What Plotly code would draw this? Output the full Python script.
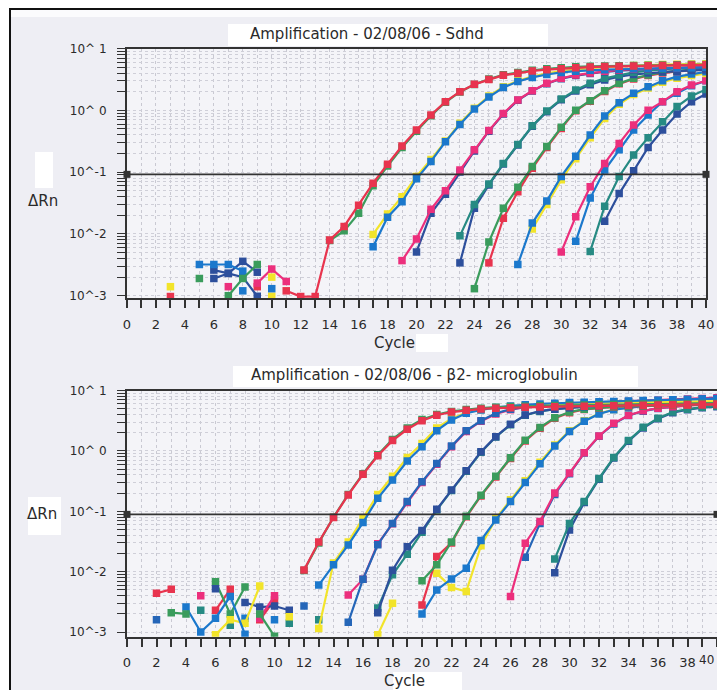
import plotly.graph_objects as go

N = None
CYCLES = list(range(1, 41))

# ---------------- Sdhd (top chart) : delta Rn per cycle 1..40 ----------------
SDHD_GREEN_A = [N, N, N, N, 0.0019, N, 0.0010, 0.0019, 0.0032, N,
                N, N, N, 0.0078, 0.0112, 0.0215, 0.060, 0.125, 0.25, 0.46,
                0.82, 1.35, 1.98, 2.62, 3.2, 3.75, 4.1, 4.45, 4.7, 4.9,
                5.05, 5.15, 5.2, 5.25, 5.3, 5.35, 5.4, 5.45, 5.5, 5.5]
SDHD_RED_A = [N, N, 0.00097, N, N, N, N, N, N, N,
              0.0012, 0.00097, 0.00097, 0.0080, 0.0132, 0.029, 0.066, 0.134, 0.264, 0.48,
              0.84, 1.38, 2.0, 2.63, 3.16, 3.7, 3.96, 4.33, 4.55, 4.72,
              4.9, 5.0, 5.1, 5.15, 5.2, 5.25, 5.3, 5.35, 5.4, 5.45]
SDHD_YELLOW_B = [N, N, 0.0014, N, N, N, N, N, N, 0.0020,
                 N, N, N, N, N, N, 0.0098, 0.021, 0.040, 0.085,
                 0.16, 0.32, 0.62, 1.08, 1.7, 2.4, 3.0, 3.5, 3.95, 4.3,
                 4.6, 4.8, 5.0, 5.15, 5.3, 5.4, 5.5, 5.55, 5.6, 5.65]
SDHD_BLUE_B = [N, N, N, N, 0.0032, 0.0032, 0.0032, 0.0025, N, 0.0013,
               N, N, N, N, N, N, 0.0062, 0.0186, 0.033, 0.078,
               0.149, 0.31, 0.59, 1.05, 1.64, 2.33, 2.92, 3.41, 3.8, 4.1,
               4.3, 4.45, 4.55, 4.62, 4.7, 4.75, 4.8, 4.85, 4.9, 4.95]
SDHD_PINK_C = [N, N, N, N, N, N, 0.0014, N, 0.0016, 0.0027,
               0.0017, N, N, N, N, N, N, N, 0.0037, 0.0083,
               0.025, 0.050, 0.108, 0.23, 0.47, 0.89, 1.47, 2.08, 2.73, 3.29,
               3.72, 4.0, 4.3, 4.5, 4.65, 4.75, 4.85, 4.9, 5.0, 5.05]
SDHD_NAVY_C = [N, N, N, N, N, 0.0026, 0.0023, 0.0036, 0.0024, N,
               N, N, N, N, N, N, N, N, N, 0.0051,
               0.0215, 0.044, 0.10, 0.22, 0.46, 0.87, 1.45, 2.05, 2.7, 3.25,
               3.65, 3.95, 4.2, 4.4, 4.55, 4.65, 4.75, 4.8, 4.85, 4.9]
SDHD_TEAL_D = [N, N, N, N, N, N, N, N, N, N,
               N, N, N, N, N, N, N, N, N, N,
               N, N, 0.0093, 0.030, 0.064, 0.138, 0.28, 0.56, 0.97, 1.52,
               2.13, 2.73, 3.29, 3.72, 4.11, 4.37, 4.6, 4.79, 4.9, 5.08]
SDHD_NAVY_D = [N, N, N, N, N, 0.0019, 0.0023, 0.0020, 0.00098, N,
               N, N, N, N, N, N, N, N, N, N,
               N, N, 0.0034, 0.026, 0.062, 0.135, 0.275, 0.55, 0.95, 1.48,
               2.05, 2.6, 3.1, 3.5, 3.8, 4.0, 4.15, 4.3, 4.4, 4.5]
SDHD_GREEN_E = [N, N, N, N, N, N, N, N, N, N,
                N, N, N, N, N, N, N, N, N, N,
                N, N, N, 0.0013, 0.0074, 0.026, 0.057, 0.123, 0.26, 0.53,
                1.0, 1.43, 2.07, 2.73, 3.29, 3.72, 4.11, 4.37, 4.6, 4.79]
SDHD_RED_E = [N, N, N, N, N, N, N, N, 0.0014, N,
              N, N, N, N, N, N, N, N, N, N,
              N, N, N, N, 0.0034, 0.018, 0.048, 0.115, 0.25, 0.51,
              0.98, 1.4, 2.02, 2.68, 3.2, 3.65, 4.0, 4.25, 4.45, 4.6]
SDHD_YELLOW_F = [N, N, N, N, N, N, N, N, N, 0.00098,
                 N, N, N, N, N, N, N, N, N, N,
                 N, N, N, N, N, N, N, 0.012, 0.030, 0.075,
                 0.165, 0.36, 0.74, 1.25, 1.8, 2.3, 2.85, 3.3, 3.65, 3.95]
SDHD_BLUE_F = [N, N, N, N, N, N, N, 0.0012, N, N,
               N, N, N, N, N, N, N, N, N, N,
               N, N, N, N, N, N, 0.0032, 0.015, 0.034, 0.085,
               0.18, 0.40, 0.81, 1.33, 1.88, 2.4, 3.0, 3.5, 3.87, 4.2]
SDHD_PINK_G = [N, N, N, N, N, N, N, N, N, N,
               N, N, N, N, N, N, N, N, N, N,
               N, N, N, N, N, N, N, N, N, 0.0051,
               0.019, 0.058, 0.138, 0.29, 0.58, 1.0, 1.38, 2.0, 2.57, 3.0]
SDHD_BLUE_G = [N, N, N, N, N, N, N, N, N, N,
               N, N, N, N, N, N, N, N, N, N,
               N, N, N, N, N, N, N, N, N, N,
               0.0076, 0.038, 0.108, 0.23, 0.48, 0.84, 1.38, 1.88, 2.5, 3.0]
SDHD_TEAL_H = [N, N, N, N, N, N, N, N, N, N,
               N, N, N, N, N, N, N, N, N, N,
               N, N, N, N, N, N, N, N, N, N,
               N, 0.0052, 0.028, 0.085, 0.19, 0.36, 0.65, 1.15, 1.7, 2.18]
SDHD_NAVY_H = [N, N, N, N, N, N, N, N, N, N,
               N, N, N, N, N, N, N, N, N, N,
               N, N, N, N, N, N, N, N, N, N,
               N, N, 0.016, 0.045, 0.105, 0.25, 0.48, 0.87, 1.38, 1.84]
SDHD_THRESHOLD = 0.092

# ---------------- beta2-microglobulin (bottom chart) ----------------
B2M_GREEN_A = [N, N, 0.0021, 0.0020, N, N, N, N, 0.0020, 0.00085,
               N, 0.0105, 0.030, 0.080, 0.19, 0.42, 0.86, 1.55, 2.4, 3.3,
               4.0, 4.5, 4.85, 5.1, 5.3, 5.4, 5.5, 5.6, 5.65, 5.7,
               5.75, 5.8, 5.85, 5.9, 5.95, 6.0, 6.0, 6.05, 6.1, 6.1]
B2M_RED_A = [N, 0.0044, 0.0051, N, N, N, N, N, N, N,
             N, 0.0107, 0.031, 0.079, 0.187, 0.41, 0.83, 1.48, 2.28, 3.16,
             3.9, 4.4, 4.7, 4.95, 5.1, 5.2, 5.3, 5.35, 5.4, 5.45,
             5.5, 5.55, 5.6, 5.65, 5.7, 5.75, 5.8, 5.85, 5.9, 5.95]
B2M_YELLOW_B = [N, N, N, N, N, 0.00090, 0.0016, 0.0014, 0.0058, N,
                0.0018, N, 0.00115, 0.014, 0.031, 0.075, 0.19, 0.38, 0.78, 1.32,
                2.4, 3.4, 4.3, 4.8, 5.2, 5.5, 5.7, 5.85, 5.95, 6.05,
                6.15, 6.2, 6.3, 6.35, 6.4, 6.45, 6.5, 6.55, 6.6, 6.65]
B2M_BLUE_B = [N, N, N, 0.0026, 0.0010, 0.0017, 0.0039, 0.00092, N, N,
              N, N, 0.0060, 0.013, 0.0277, 0.065, 0.164, 0.33, 0.68, 1.17,
              2.16, 3.24, 4.2, 4.75, 5.25, 5.55, 5.8, 6.0, 6.15, 6.3,
              6.4, 6.5, 6.6, 6.7, 6.8, 6.9, 7.0, 7.1, 7.2, 7.3]
B2M_PINK_C = [N, N, N, N, 0.0040, N, N, N, 0.0017, 0.0040,
              N, N, N, N, 0.0041, 0.0075, 0.029, 0.062, 0.14, 0.30,
              0.60, 1.17, 2.1, 3.1, 4.1, 4.8, 5.3, 5.6, 5.85, 6.05,
              6.2, 6.35, 6.5, 6.6, 6.75, 6.9, 7.05, 7.2, 7.4, 7.6]
B2M_BLUE_C = [N, 0.0016, N, N, N, N, N, N, N, N,
              N, 0.0027, N, N, 0.00145, 0.0075, 0.028, 0.063, 0.145, 0.31,
              0.62, 1.2, 2.16, 3.16, 4.2, 4.9, 5.3, 5.6, 5.85, 6.0,
              6.15, 6.3, 6.45, 6.55, 6.7, 6.85, 7.0, 7.1, 7.25, 7.4]
B2M_TEAL_D = [N, N, N, N, 0.0023, N, 0.0013, N, N, N,
              0.0014, N, 0.0016, N, N, N, 0.0025, 0.0089, 0.0195, 0.045,
              0.105, 0.22, 0.46, 0.95, 1.7, 2.7, 3.9, 4.5, 4.9, 5.2,
              5.4, 5.55, 5.7, 5.8, 5.9, 6.0, 6.1, 6.2, 6.3, 6.4]
B2M_NAVY_D = [N, N, N, N, N, 0.0052, N, 0.0031, 0.0026, 0.0027,
              0.0023, N, N, N, N, N, 0.0021, 0.0106, 0.026, 0.048,
              0.108, 0.225, 0.47, 0.97, 1.72, 2.75, 3.93, 4.57, 4.9, 5.2,
              5.4, 5.55, 5.7, 5.8, 5.9, 6.0, 6.1, 6.2, 6.3, 6.4]
B2M_GREEN_E = [N, N, N, N, N, 0.0068, 0.0020, 0.0056, N, N,
               N, N, N, N, N, N, N, N, N, 0.0071,
               0.013, 0.031, 0.083, 0.185, 0.38, 0.77, 1.5, 2.45, 3.55, 4.4,
               4.9, 5.2, 5.4, 5.5, 5.6, 5.7, 5.8, 5.85, 5.9, 5.95]
B2M_RED_E = [N, N, N, N, N, 0.0023, 0.0051, N, 0.0016, 0.0034,
             N, N, N, N, N, N, N, N, N, 0.0028,
             0.0178, 0.030, 0.081, 0.18, 0.37, 0.75, 1.46, 2.37, 3.47, 4.3,
             4.85, 5.15, 5.35, 5.45, 5.55, 5.6, 5.65, 5.7, 5.75, 5.8]
B2M_YELLOW_F = [N, N, N, N, N, N, N, N, N, N,
                N, N, N, N, N, N, 0.00090, 0.0030, N, N,
                0.0094, 0.0055, 0.0047, 0.027, 0.075, 0.155, 0.32, 0.65, 1.25, 2.15,
                3.15, 4.15, 4.85, 5.25, 5.55, 5.75, 5.9, 6.0, 6.1, 6.2]
B2M_BLUE_F = [N, N, N, N, N, N, N, 0.0017, N, 0.0016,
              N, N, N, N, N, N, N, N, N, 0.0020,
              0.0050, 0.0076, 0.0114, 0.033, 0.072, 0.145, 0.30, 0.61, 1.2, 2.1,
              3.1, 4.1, 4.8, 5.2, 5.5, 5.7, 5.9, 6.0, 6.1, 6.2]
B2M_PINK_G = [N, N, N, N, N, N, N, N, N, N,
              N, N, N, N, N, N, N, N, N, N,
              N, N, N, N, N, 0.0039, 0.0296, 0.068, 0.20, 0.43,
              0.93, 1.77, 2.86, 3.9, 4.6, 5.1, 5.4, 5.7, 5.9, 6.1]
B2M_BLUE_G = [N, N, N, N, N, N, N, N, N, N,
              N, N, N, N, N, N, N, N, N, N,
              N, N, N, N, N, N, 0.0174, 0.063, 0.19, 0.42,
              0.92, 1.75, 2.8, 3.85, 4.55, 5.05, 5.4, 5.7, 5.9, 6.1]
B2M_TEAL_H = [N, N, N, N, N, N, N, N, N, N,
              N, N, N, N, N, N, N, N, N, N,
              N, N, N, N, N, N, N, N, 0.0163, 0.063,
              0.145, 0.35, 0.78, 1.48, 2.46, 3.47, 4.4, 4.9, 5.3, 5.5]
B2M_NAVY_H = [N, N, N, N, N, N, N, N, N, N,
              N, N, N, N, N, N, N, N, N, N,
              N, N, N, N, N, N, N, N, 0.0096, 0.049,
              0.14, 0.34, 0.76, 1.45, 2.4, 3.4, 4.3, 4.8, 5.2, 5.4]
B2M_THRESHOLD = 0.089

TITLE_TOP = "Amplification - 02/08/06 - Sdhd"
TITLE_BOTTOM = "Amplification - 02/08/06 - \u03b22- microglobulin"
Y_LABEL = "\u0394Rn"
X_LABEL = "Cycle"
LAST_CYCLE_LABEL = "40"

# ---------------- styling ----------------
RED = "#e8344e"
PINK = "#ec2f7c"
GREEN = "#3a9c5c"
TEAL = "#268a83"
YELLOW = "#f2e42a"
BLUE = "#1b78cc"
MIDBLUE = "#2566b8"
NAVY = "#2d4f9c"
FONT = "DejaVu Sans"
INK = "#2a2a2a"

PAGE_MARGIN = 8          # default body margin of the html page
W, H = 725 - 2 * PAGE_MARGIN, 698 - 2 * PAGE_MARGIN


def px(x):
    return (x - PAGE_MARGIN) / W


def py(y):
    return 1 - (y - PAGE_MARGIN) / H


fig = go.Figure()


def add_series(vals, color, xa, ya):
    fig.add_trace(go.Scatter(
        x=CYCLES, y=vals, mode="lines+markers",
        line=dict(color=color, width=2.2),
        marker=dict(symbol="square", size=7.5, color=color),
        connectgaps=False, xaxis=xa, yaxis=ya,
        showlegend=False, hoverinfo="skip"))


top_series = [
    (SDHD_NAVY_H, NAVY), (SDHD_TEAL_H, TEAL),
    (SDHD_BLUE_G, BLUE), (SDHD_PINK_G, PINK),
    (SDHD_YELLOW_F, YELLOW), (SDHD_BLUE_F, BLUE),
    (SDHD_RED_E, RED), (SDHD_GREEN_E, GREEN),
    (SDHD_NAVY_D, NAVY), (SDHD_TEAL_D, TEAL),
    (SDHD_NAVY_C, NAVY), (SDHD_PINK_C, PINK),
    (SDHD_YELLOW_B, YELLOW), (SDHD_BLUE_B, BLUE),
    (SDHD_GREEN_A, GREEN), (SDHD_RED_A, RED),
]
bottom_series = [
    (B2M_NAVY_H, NAVY), (B2M_TEAL_H, TEAL),
    (B2M_BLUE_G, MIDBLUE), (B2M_PINK_G, PINK),
    (B2M_YELLOW_F, YELLOW), (B2M_BLUE_F, BLUE),
    (B2M_RED_E, RED), (B2M_GREEN_E, GREEN),
    (B2M_TEAL_D, TEAL), (B2M_NAVY_D, NAVY),
    (B2M_PINK_C, PINK), (B2M_BLUE_C, MIDBLUE),
    (B2M_YELLOW_B, YELLOW), (B2M_BLUE_B, BLUE),
    (B2M_GREEN_A, GREEN), (B2M_RED_A, RED),
]
for vals, col in top_series:
    add_series(vals, col, "x", "y")
for vals, col in bottom_series:
    add_series(vals, col, "x2", "y2")

# threshold lines (drawn as data through the axes)
for thr, xa, ya in [(SDHD_THRESHOLD, "x", "y"), (B2M_THRESHOLD, "x2", "y2")]:
    fig.add_trace(go.Scatter(x=[0, 40], y=[thr, thr], mode="lines",
                             line=dict(color="#333333", width=1.6),
                             xaxis=xa, yaxis=ya, showlegend=False, hoverinfo="skip"))
    fig.add_trace(go.Scatter(x=[0, 40], y=[thr, thr], mode="markers",
                             marker=dict(symbol="square", size=7, color="#333333"),
                             cliponaxis=False,
                             xaxis=xa, yaxis=ya, showlegend=False, hoverinfo="skip"))

# axis ticks
Y_TICKVALS = []
Y_TICKTEXT = []
for e in range(-3, 1):
    for m in range(1, 10):
        Y_TICKVALS.append(float(f"{m}e{e}"))
        if m == 1:
            Y_TICKTEXT.append(f"10^{e}" if e < 0 else f"10^ {e}")
        else:
            Y_TICKTEXT.append("")
Y_TICKVALS.append(10.0)
Y_TICKTEXT.append("10^ 1")

X_TICKVALS = list(range(0, 41))
X_TICKTEXT = [str(v) if v % 2 == 0 else "" for v in X_TICKVALS]

xcommon = dict(range=[0, 40], tickmode="array", tickvals=X_TICKVALS, ticktext=X_TICKTEXT,
               ticks="outside", ticklen=8, tickwidth=1.5, tickcolor="#333333",
               ticklabelstandoff=5, automargin=False,
               showline=True, linecolor="#333333", linewidth=2, mirror=True,
               showgrid=True, gridcolor="#c9c9d2", gridwidth=1, griddash="dot",
               zeroline=False, tickfont=dict(family=FONT, size=13, color=INK))
ycommon = dict(type="log", tickmode="array", tickvals=Y_TICKVALS, ticktext=Y_TICKTEXT,
               ticks="outside", ticklen=8, tickwidth=1.2, tickcolor="#333333",
               ticklabelstandoff=8, automargin=False,
               showline=True, linecolor="#333333", linewidth=2, mirror=True,
               showgrid=True, gridcolor="#cfcfd8", gridwidth=1, griddash="dot",
               zeroline=False, tickfont=dict(family=FONT, size=12, color=INK))

fig.update_layout(
    template="none",
    width=W, height=H, margin=dict(l=0, r=0, t=0, b=0, pad=0, autoexpand=False),
    paper_bgcolor="#eeeef4", plot_bgcolor="#f4f4f8",
    showlegend=False,
    xaxis=dict(domain=[px(127), px(706)], anchor="y", **xcommon),
    yaxis=dict(domain=[py(298), py(48.5)], anchor="x", range=[-3.037, 1], **ycommon),
    xaxis2=dict(domain=[px(127), min(1.0, px(719))], anchor="y2", **xcommon),
    yaxis2=dict(domain=[py(636.7), py(390.5)], anchor="x2", range=[-3.076, 1], **ycommon),
)

shapes = []


def rect(x0, y0, x1, y1, color, layer="below"):
    shapes.append(dict(type="rect", xref="paper", yref="paper",
                       x0=px(x0), x1=px(x1), y0=py(y1), y1=py(y0),
                       fillcolor=color, line=dict(width=0), layer=layer))


# light page areas and white label boxes
rect(10, 8, 725, 17, "#fbfbfd")
rect(228, 24, 548, 46, "#ffffff")
rect(233, 366, 638, 387, "#ffffff")
rect(35, 152, 53, 188, "#ffffff")
rect(28, 497, 61, 535, "#ffffff")
rect(416, 334, 448, 352, "#ffffff")
rect(393, 672, 462, 698, "#ffffff")
rect(8, 8, 10, 698, "#ffffff")
# scan frame lines
shapes.append(dict(type="line", xref="paper", yref="paper", x0=px(10), x1=px(10),
                   y0=0, y1=1, line=dict(color="#111111", width=2), layer="above"))
shapes.append(dict(type="line", xref="paper", yref="paper", x0=px(10), x1=1,
                   y0=py(9), y1=py(9), line=dict(color="#111111", width=2), layer="above"))
fig.update_layout(shapes=shapes)

ann = []


def label(text, x, y, size, anchor="center"):
    ann.append(dict(text=text, x=px(x), y=py(y), xref="paper", yref="paper",
                    xanchor=anchor, yanchor="middle", showarrow=False,
                    font=dict(family=FONT, size=size, color=INK)))


label(TITLE_TOP, 367, 34, 15)
label(TITLE_BOTTOM, 414, 375, 15)
label(Y_LABEL, 43, 201, 15)
label(Y_LABEL, 42, 514, 15)
label(X_LABEL, 394, 343, 15)
label(X_LABEL, 404, 681, 15)
# last tick label of the lower chart, kept fully inside the figure
label(LAST_CYCLE_LABEL, 716, 660, 12, anchor="right")
fig.update_layout(annotations=ann)

fig.write_html("out.html")
